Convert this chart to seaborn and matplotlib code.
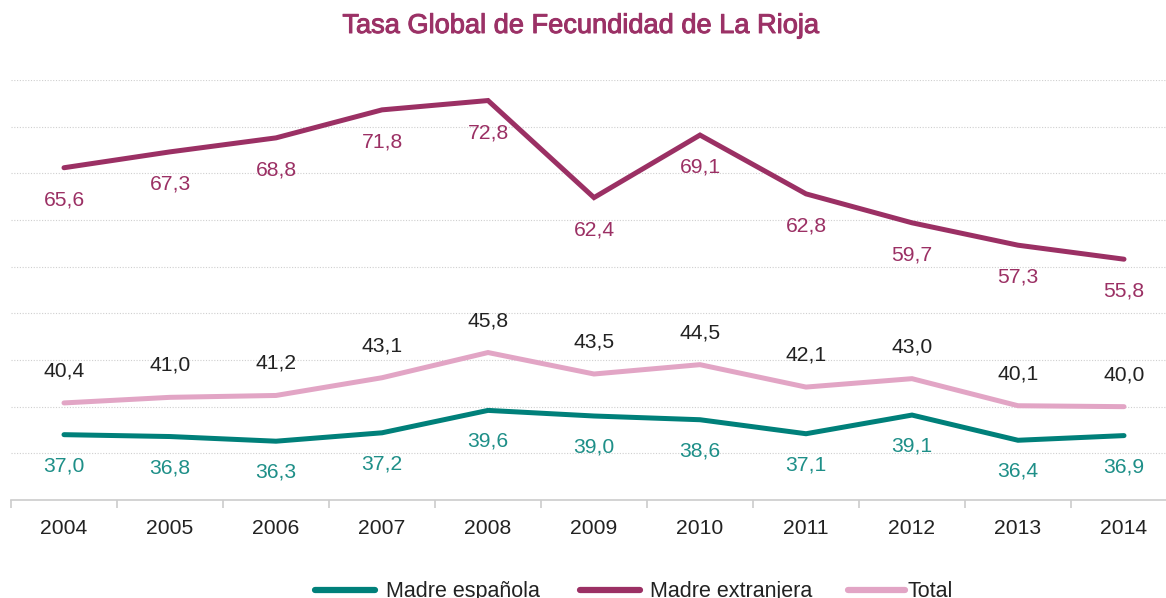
import matplotlib
matplotlib.use("Agg")
import matplotlib.pyplot as plt
import matplotlib.patheffects as pe
from matplotlib.lines import Line2D
import seaborn as sns
import pandas as pd
import numpy as np

years = ["2004", "2005", "2006", "2007", "2008", "2009", "2010", "2011", "2012", "2013", "2014"]
madre_espanola = [37.0, 36.8, 36.3, 37.2, 39.6, 39.0, 38.6, 37.1, 39.1, 36.4, 36.9]
madre_extranjera = [65.6, 67.3, 68.8, 71.8, 72.8, 62.4, 69.1, 62.8, 59.7, 57.3, 55.8]
total = [40.4, 41.0, 41.2, 43.1, 45.8, 43.5, 44.5, 42.1, 43.0, 40.1, 40.0]

series_names = ["Madre española", "Madre extranjera", "Total"]
line_colors = ["#00807A", "#9B3064", "#E2A5C5"]
label_colors = ["#1E8F88", "#9B3064", "#222222"]
label_offsets = [-31, -32, 32]  # pixels

sns.set_theme(style="white")
plt.rcParams["font.family"] = ["Liberation Sans", "DejaVu Sans"]

df = pd.DataFrame({
    "pos": list(range(len(years))) * 3,
    "valor": madre_espanola + madre_extranjera + total,
    "serie": [series_names[0]] * len(years) + [series_names[1]] * len(years) + [series_names[2]] * len(years),
})

W, H = 1166, 598
fig = plt.figure(figsize=(W / 100, H / 100), dpi=100)
ax = fig.add_axes([11 / W, 1 - 500 / H, 1166 / W, (500 - 80) / H])

sns.lineplot(data=df, x="pos", y="valor", hue="serie", hue_order=series_names,
             palette=line_colors, linewidth=3.6, ax=ax, legend=False,
             solid_capstyle="round", solid_joinstyle="miter")

ax.set_xlim(-0.5, len(years) - 0.5)
ax.set_ylim(30, 75)

for y in range(35, 80, 5):
    ax.axhline(y, color="#cfcfcf", linewidth=0.8, linestyle=(0, (1, 1.5)), zorder=0)

for s in ["top", "right", "left"]:
    ax.spines[s].set_visible(False)
ax.spines["bottom"].set_color("#cccccc")
ax.spines["bottom"].set_linewidth(1.2)

ax.set_yticks([])
ax.set_xticks(range(len(years)))
ax.set_xticklabels(years, fontsize=15.2, color="#222222")
ax.set_xticks(np.arange(-0.5, len(years) + 0.5, 1), minor=True)
ax.tick_params(axis="x", which="major", length=0, pad=14)
ax.tick_params(axis="x", which="minor", length=6, color="#cccccc", width=1.2, bottom=True)
ax.set_xlabel("")
ax.set_ylabel("")

for vals, col, off in zip([madre_espanola, madre_extranjera, total], label_colors, label_offsets):
    for i, v in enumerate(vals):
        ax.annotate(f"{v:.1f}".replace(".", ","), xy=(i, v), xytext=(0, off),
                    textcoords="offset pixels", ha="center", va="center",
                    fontsize=15.2, color=col)

fig.text(581 / W, 1 - 33 / H, "Tasa Global de Fecundidad de La Rioja", ha="center", va="baseline",
         fontsize=19.6, color="#9B3166",
         path_effects=[pe.withStroke(linewidth=0.7, foreground="#9B3166")])

# legend drawn along the bottom edge
leg_lines = [(315, 375), (580, 640), (848, 905)]
leg_text_x = [386, 650, 907]
for (x0, x1), tx, c, name in zip(leg_lines, leg_text_x, line_colors, series_names):
    fig.add_artist(Line2D([x0 / W, x1 / W], [1 - 590 / H, 1 - 590 / H], color=c,
                          linewidth=4.5, solid_capstyle="round", transform=fig.transFigure))
    fig.text(tx / W, 1 - 597 / H, name, ha="left", va="baseline", fontsize=15.5, color="#222222")

fig.savefig("out.png", dpi=100)
